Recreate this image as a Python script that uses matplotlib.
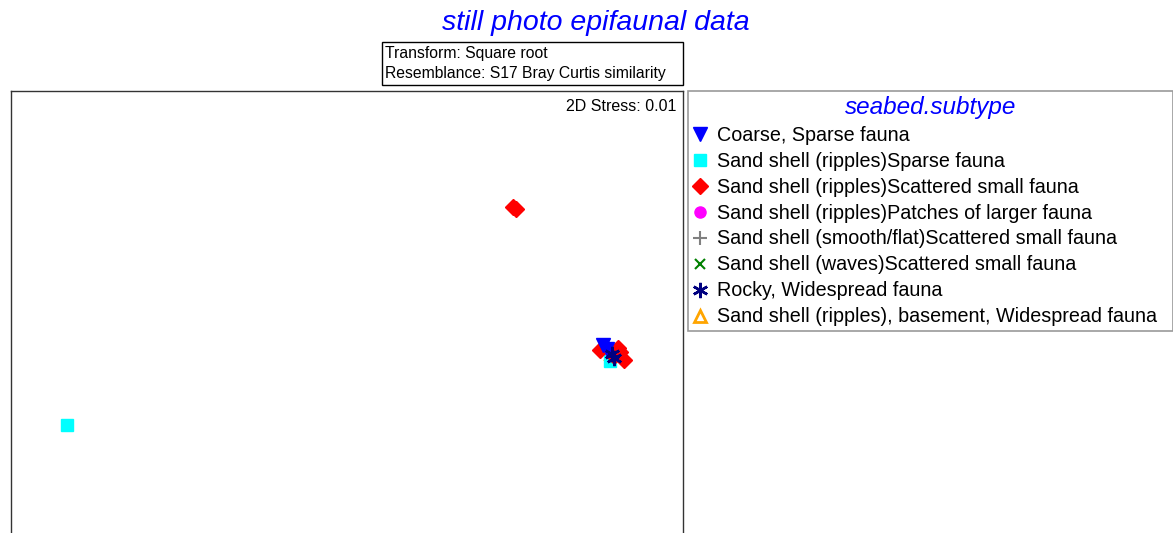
import matplotlib
matplotlib.use("Agg")
from matplotlib import pyplot as plt
from matplotlib.patches import Rectangle

plt.rcParams['font.family'] = ['Liberation Sans', 'DejaVu Sans']

# nMDS coordinates (arbitrary units) per seabed subtype
coarse_x = [1.143, 1.161]
coarse_y = [-0.200, -0.219]
sparse_x = [-1.250, 1.174]
sparse_y = [-0.558, -0.272]
scattered_x = [0.741, 0.754, 1.129, 1.219, 1.237, 1.192, 1.210]
scattered_y = [0.415, 0.406, -0.223, -0.232, -0.268, -0.250, -0.214]
patches_x = [1.179]
patches_y = [-0.232]
smooth_x = [1.185]
smooth_y = [-0.245]
waves_x = [1.188]
waves_y = [-0.248]
rocky_x = [1.183, 1.192]
rocky_y = [-0.241, -0.259]
basement_x = [1.180]
basement_y = [-0.238]

labels = ["Coarse, Sparse fauna",
          "Sand shell (ripples)Sparse fauna",
          "Sand shell (ripples)Scattered small fauna",
          "Sand shell (ripples)Patches of larger fauna",
          "Sand shell (smooth/flat)Scattered small fauna",
          "Sand shell (waves)Scattered small fauna",
          "Rocky, Widespread fauna",
          "Sand shell (ripples), basement, Widespread fauna"]

fig = plt.figure(figsize=(11.73, 5.33), dpi=100)
W, H = 1173, 533
# plot frame runs past the bottom of the picture
ax = fig.add_axes([11 / W, (H - 636) / H, 672 / W, (636 - 91) / H])
ax.set_xlim(-1.5, 1.5)
ax.set_ylim(-1.5, 0.933)
ax.set_xticks([])
ax.set_yticks([])
for s in ax.spines.values():
    s.set_color('#333333')
    s.set_linewidth(1)

bas = ax.plot(basement_x, basement_y, '^', ms=9, mfc='none', mec='orange', mew=2, ls='none')[0]
smo = ax.plot(smooth_x, smooth_y, '+', ms=10, color='gray', mew=1.5, ls='none')[0]
wav = ax.plot(waves_x, waves_y, 'x', ms=7, color='green', mew=1.5, ls='none')[0]
pat = ax.plot(patches_x, patches_y, 'o', ms=8, color='magenta', ls='none')[0]
spa = ax.plot(sparse_x, sparse_y, 's', ms=9, color='cyan', ls='none')[0]
sca = ax.plot(scattered_x, scattered_y, 'D', ms=8, color='red', ls='none')[0]
coa = ax.plot(coarse_x, coarse_y, 'v', ms=10, color='blue', ls='none')[0]
rk = ax.plot(rocky_x, rocky_y, marker=(6, 2, 0), ms=11, color='navy', mew=1.8, ls='none')[0]
handles = [coa, spa, sca, pat, smo, wav, rk, bas]

ax.text(0.99, 0.985, "2D Stress: 0.01", transform=ax.transAxes,
        ha='right', va='top', fontsize=11.5)

fig.text(596 / W, 1 - 23 / H, "still photo epifaunal data", color='blue',
         style='italic', fontsize=20.5, ha='center', va='center')

# info box above the plot
fig.patches.append(Rectangle((382 / W, 1 - 85 / H), 301 / W, 43 / H,
                             transform=fig.transFigure, fc='white', ec='black', lw=1))
fig.text(385 / W, 1 - 63.5 / H, "Transform: Square root\nResemblance: S17 Bray Curtis similarity",
         fontsize=11.3, ha='left', va='center', linespacing=1.45)

leg = fig.legend(handles, labels, loc='upper left',
                 bbox_to_anchor=(688 / W, 0, (W - 688) / W, 1 - 91 / H),
                 bbox_transform=fig.transFigure, mode='expand',
                 title="seabed.subtype", fontsize=14.2, frameon=True,
                 fancybox=False, edgecolor='gray', handlelength=0.7,
                 handletextpad=0.5, labelspacing=0.35, borderpad=0.25,
                 borderaxespad=0, alignment='center', handleheight=0.6)
leg.get_title().set_color('blue')
leg.get_title().set_fontstyle('italic')
leg.get_title().set_fontsize(17.5)
leg.get_frame().set_linewidth(1.2)

fig.savefig("out.png", dpi=100)
